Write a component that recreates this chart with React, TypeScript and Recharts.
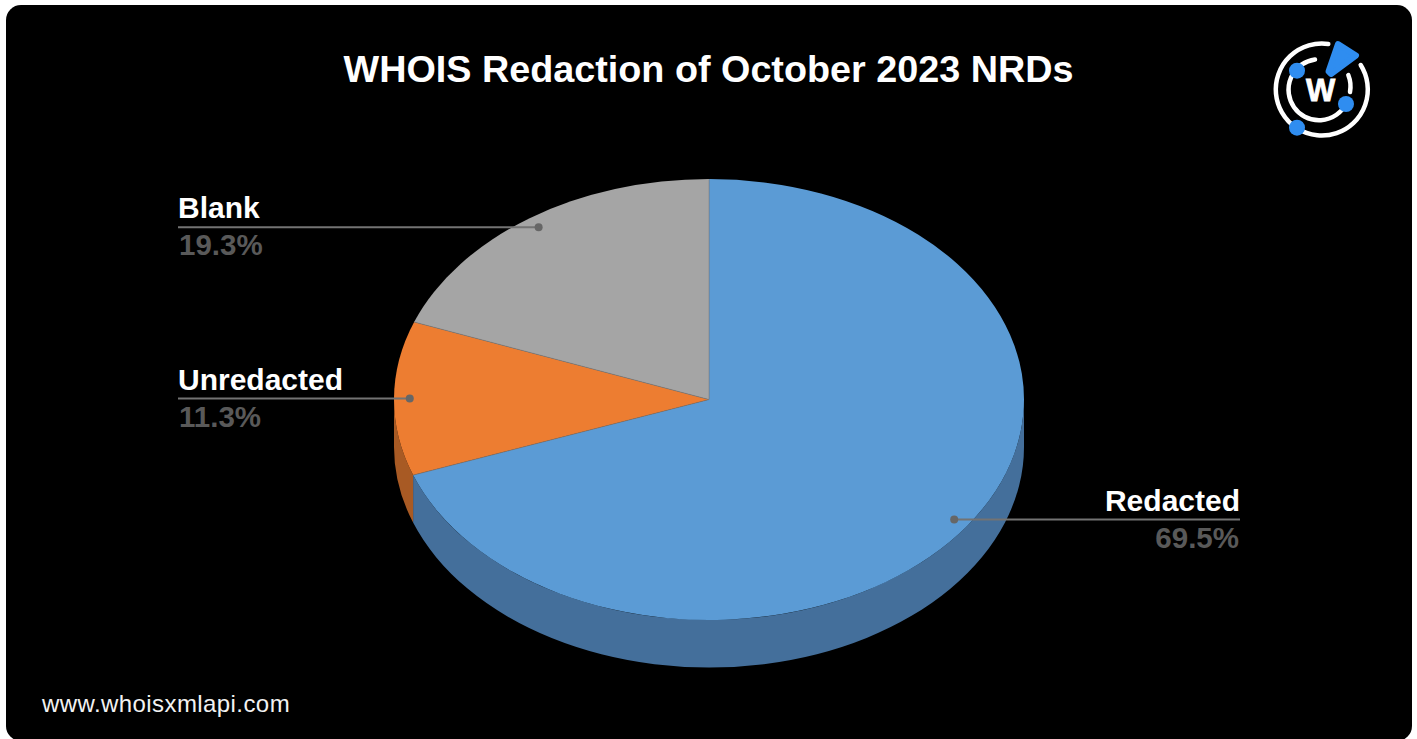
import { PieChart, Pie } from 'recharts';

const FONT = '"Liberation Sans", Arial, sans-serif';

const sliceNames = ['Redacted', 'Unredacted', 'Blank'];
const sliceShares = [69.5, 11.3, 19.3];

const topColors: { [key: string]: string } = {
  Redacted: '#5b9bd5',
  Unredacted: '#ed7d31',
  Blank: '#a5a5a5',
};
const sideColors: { [key: string]: string } = {
  Redacted: '#446f9b',
  Unredacted: '#a85a24',
  Blank: '#757575',
};

const pieData = sliceNames.map((name, i) => ({ name, value: sliceShares[i] }));

// the pie is tilted, so recharts' circle gets squashed into an ellipse
const TILT = 0.7;
const DEPTH = 47.5;
const RAD = Math.PI / 180;

const ellipsePoint = (cx: number, cy: number, r: number, deg: number) => ({
  x: cx + r * Math.cos(deg * RAD),
  y: cy - r * TILT * Math.sin(deg * RAD),
});

const TopSlice = (props: any) => {
  const { cx, cy, outerRadius, startAngle, endAngle, name } = props;
  const a = ellipsePoint(cx, cy, outerRadius, startAngle);
  const b = ellipsePoint(cx, cy, outerRadius, endAngle);
  const large = Math.abs(startAngle - endAngle) > 180 ? 1 : 0;
  const d = `M ${cx} ${cy} L ${a.x} ${a.y} A ${outerRadius} ${outerRadius * TILT} 0 ${large} 1 ${b.x} ${b.y} Z`;
  return (
    <g>
      <path d={d} fill={topColors[name]} />
      {/* thin seam between slices only, not round the rim */}
      <path d={`M ${a.x} ${a.y} L ${cx} ${cy} L ${b.x} ${b.y}`} fill="none" stroke="#777" strokeOpacity={0.6} strokeWidth={0.7} />
    </g>
  );
};

// outer wall, only the part that faces the viewer (lower half of the ellipse)
const SideSlice = (props: any) => {
  const { cx, cy, outerRadius, startAngle, endAngle, name } = props;
  const hi = Math.min(startAngle, 0);
  const lo = Math.max(endAngle, -180);
  if (hi <= lo) return null;
  const a = ellipsePoint(cx, cy, outerRadius, hi);
  const b = ellipsePoint(cx, cy, outerRadius, lo);
  const rx = outerRadius;
  const ry = outerRadius * TILT;
  const d = `M ${a.x} ${a.y} A ${rx} ${ry} 0 0 1 ${b.x} ${b.y} L ${b.x} ${b.y + DEPTH} A ${rx} ${ry} 0 0 0 ${a.x} ${a.y + DEPTH} Z`;
  return <path d={d} fill={sideColors[name]} />;
};

const SliceLabel = (props: any) => {
  const { cx, cy, outerRadius, midAngle, name, value } = props;
  const dot = ellipsePoint(cx, cy, outerRadius * 0.95, midAngle);
  const onRight = Math.cos(midAngle * RAD) > 0;
  const textX = onRight ? 1240 : 178;
  const anchor = onRight ? 'end' : 'start';
  return (
    <g fontFamily={FONT} fontWeight={700}>
      <line x1={dot.x} y1={dot.y} x2={textX} y2={dot.y} stroke="#737373" strokeWidth={2} />
      <circle cx={dot.x} cy={dot.y} r={4} fill="#666" />
      <text x={textX} y={dot.y - 9} textAnchor={anchor} fontSize={30} fill="#fff">{name}</text>
      <text x={onRight ? textX - 1 : textX + 1} y={dot.y + 28} textAnchor={anchor} fontSize={29.5} fill="#595959">{value}%</text>
    </g>
  );
};

const Logo = () => (
  <svg width={1417} height={739} style={{ position: 'absolute', left: 0, top: 0 }}>
    <g fill="none" stroke="#fff" strokeWidth={4.5} strokeLinecap="round">
      <path d="M 1328.3 44 A 46 46 0 1 0 1360.7 65" />
      <path d="M 1315 59.5 A 30.5 30.5 0 1 0 1346 104" />
      <path d="M 1348.3 75 A 31 31 0 0 1 1350 92" />
    </g>
    <text x={1320.7} y={101} textAnchor="middle" fontFamily={FONT} fontWeight={700} fontSize={31} fill="#fff" stroke="#fff" strokeWidth={0.8}>W</text>
    <path d="M 1338 44 L 1356 55.5 L 1331 74 L 1328.5 71.5 Z" fill="#2f8df0" stroke="#2f8df0" strokeWidth={6} strokeLinejoin="round" />
    <circle cx={1297} cy={70.7} r={8} fill="#2f8df0" />
    <circle cx={1346} cy={104} r={8} fill="#2f8df0" />
    <circle cx={1297} cy={127.7} r={8} fill="#2f8df0" />
  </svg>
);

export default function App() {
  return (
    <div style={{ position: 'absolute', left: 0, top: 0, width: 1417, height: 739, overflow: 'hidden', background: '#fff' }}>
      <div style={{ position: 'absolute', left: 6, top: 5, width: 1406, height: 736, borderRadius: 15, background: '#000' }} />
      <div style={{ position: 'absolute', left: 0, top: 0 }}>
        <PieChart width={1417} height={739} margin={{ top: 0, right: 0, bottom: 0, left: 0 }}>
          <Pie
            data={pieData}
            dataKey="value"
            nameKey="name"
            cx={709}
            cy={399.5}
            outerRadius={315}
            startAngle={90}
            endAngle={-270}
            shape={SideSlice}
            label={false}
            labelLine={false}
            isAnimationActive={false}
          />
          <Pie
            data={pieData}
            dataKey="value"
            nameKey="name"
            cx={709}
            cy={399.5}
            outerRadius={315}
            startAngle={90}
            endAngle={-270}
            shape={TopSlice}
            label={SliceLabel}
            labelLine={false}
            isAnimationActive={false}
          />
        </PieChart>
      </div>
      <div style={{ position: 'absolute', left: 0, width: 1417, top: 47, textAlign: 'center', fontFamily: FONT, fontWeight: 700, fontSize: 37.75, lineHeight: '44px', color: '#fff' }}>
        WHOIS Redaction of October 2023 NRDs
      </div>
      <div style={{ position: 'absolute', left: 42, top: 690, fontFamily: FONT, fontSize: 24, letterSpacing: 0.42, lineHeight: '27px', color: '#f2f2f2' }}>
        www.whoisxmlapi.com
      </div>
      <Logo />
    </div>
  );
}
